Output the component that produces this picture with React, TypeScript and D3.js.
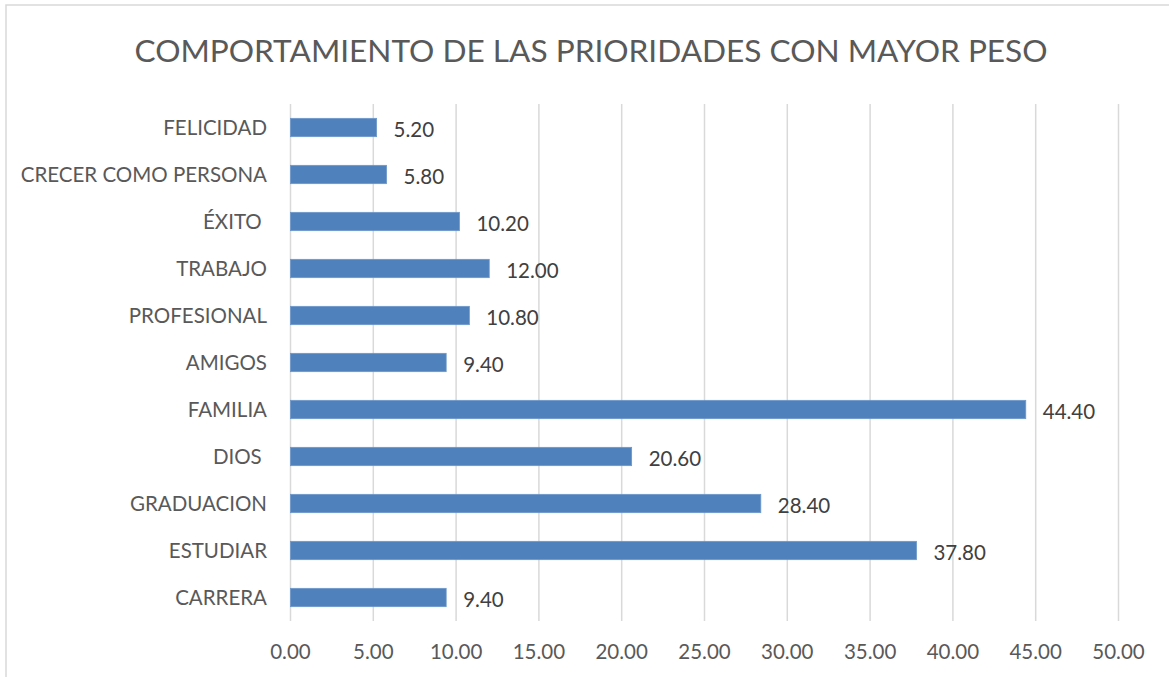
import React from 'react';
import * as d3 from 'd3';

const categories = [
  'FELICIDAD',
  'CRECER COMO PERSONA',
  'ÉXITO ',
  'TRABAJO',
  'PROFESIONAL',
  'AMIGOS',
  'FAMILIA',
  'DIOS ',
  'GRADUACION',
  'ESTUDIAR',
  'CARRERA',
];
const values = [5.2, 5.8, 10.2, 12.0, 10.8, 9.4, 44.4, 20.6, 28.4, 37.8, 9.4];
const ticks = [0, 5, 10, 15, 20, 25, 30, 35, 40, 45, 50];
const title = 'COMPORTAMIENTO DE LAS PRIORIDADES CON MAYOR PESO';

const W = 1169;
const H = 677;
const font = 'Lato, "Open Sans", sans-serif';

export default function App() {
  const x = d3.scaleLinear().domain([0, 50]).range([290.5, 1118.5]);
  const y = d3.scaleBand().domain(categories).range([104, 621]).paddingInner(0.61).paddingOuter(0.305);
  const data = categories.map((c, i) => ({ c, v: values[i] }));

  return (
    <svg width={W} height={H} style={{ position: 'absolute', left: 0, top: 0, background: '#fff' }}>
      <rect x={6} y={5} width={W + 20} height={H + 20} fill="#fff" stroke="#d9d9d9" strokeWidth={1.5} />
      <text x={591} y={62} textAnchor="middle" fontFamily={font} fontSize={31.6} fill="#595959">
        {title}
      </text>
      {ticks.map(t => (
        <g key={t}>
          <line x1={x(t)} x2={x(t)} y1={104} y2={621} stroke="#d9d9d9" strokeWidth={1.5} />
          <text x={x(t)} y={659} textAnchor="middle" fontFamily={font} fontSize={20.5} fill="#595959">
            {d3.format('.2f')(t)}
          </text>
        </g>
      ))}
      {data.map(d => (
        <g key={d.c}>
          <rect
            x={x(0)}
            y={y(d.c)}
            width={x(d.v) - x(0)}
            height={y.bandwidth()}
            fill="#4f81bd"
            stroke="#6d97c9"
            strokeWidth={0.8}
          />
          <text
            x={267}
            y={(y(d.c) as number) + y.bandwidth() / 2 + 7.5}
            textAnchor="end"
            fontFamily={font}
            fontSize={20.5}
            fill="#595959"
            style={{ whiteSpace: 'pre' }}
          >
            {d.c}
          </text>
          <text
            x={x(d.v) + 17}
            y={(y(d.c) as number) + y.bandwidth() / 2 + 9.5}
            fontFamily={font}
            fontSize={20.5}
            fill="#404040"
          >
            {d3.format('.2f')(d.v)}
          </text>
        </g>
      ))}
    </svg>
  );
}
